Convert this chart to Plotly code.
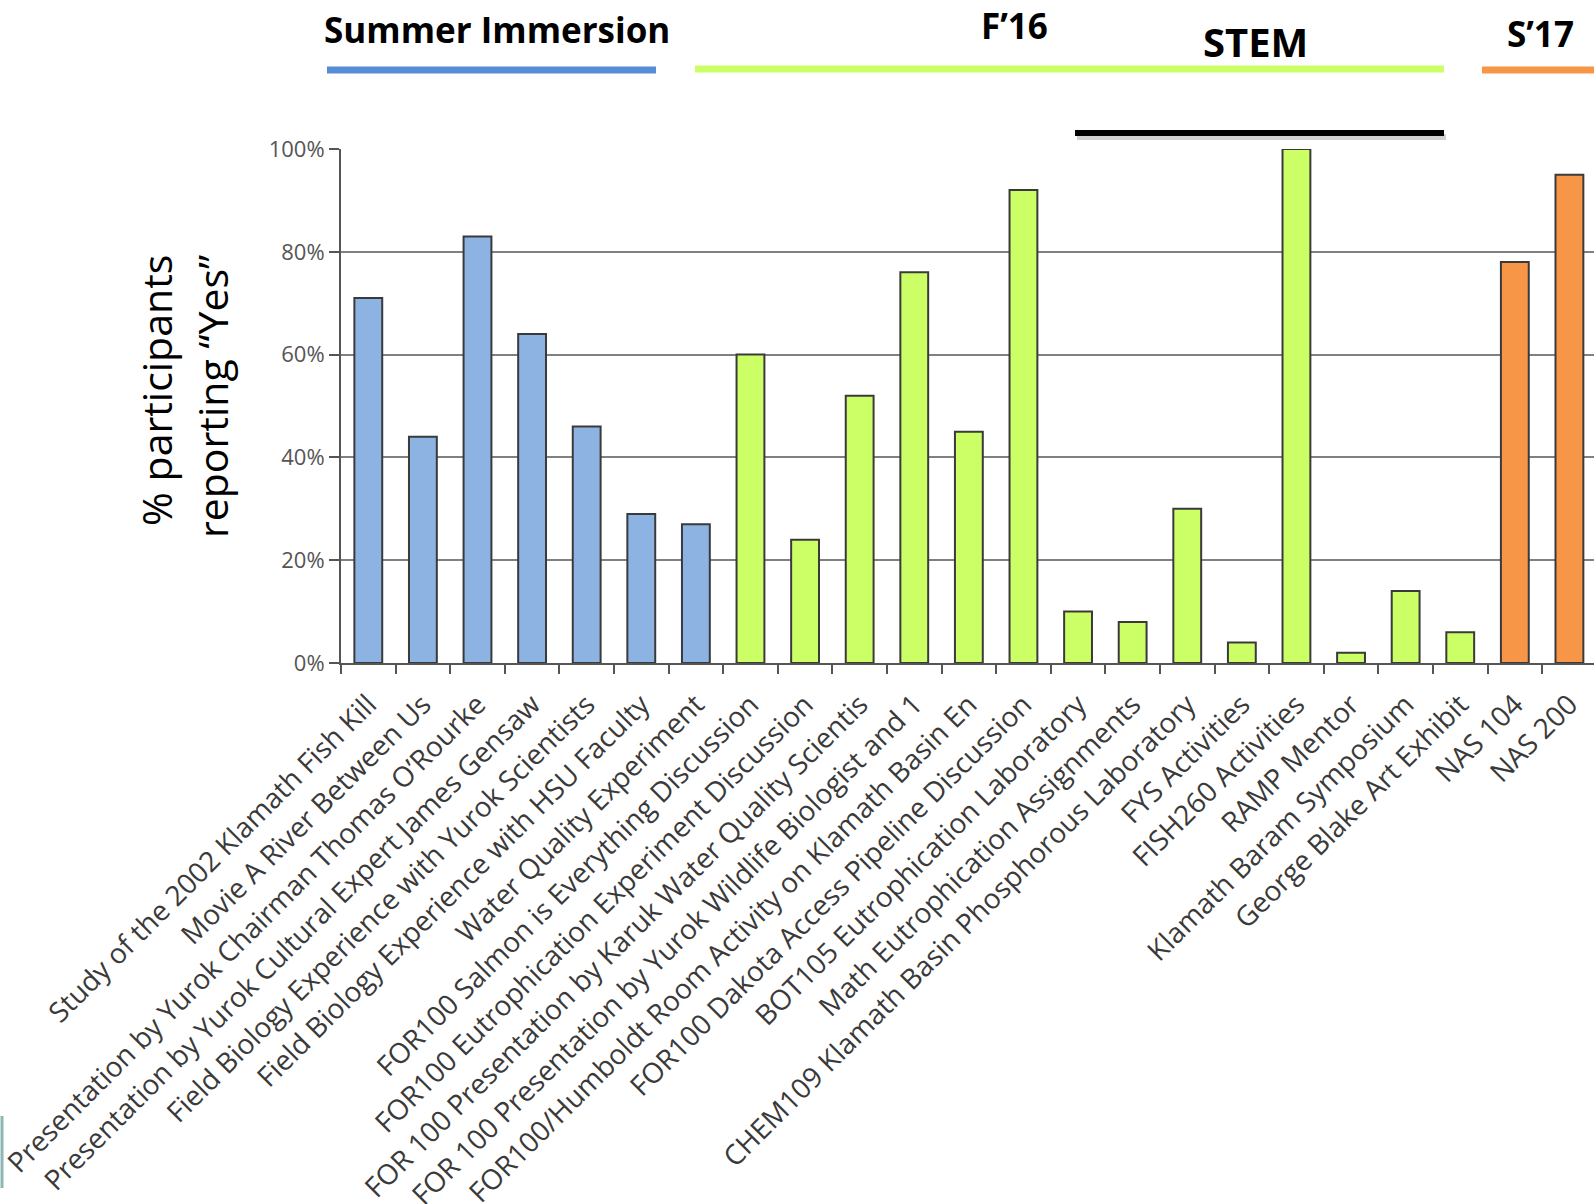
import plotly.graph_objects as go

# Activities, grouped by program, and the share of participants answering "Yes"
activities = [
    "Study of the 2002 Klamath Fish Kill",
    "Movie A River Between Us",
    "Presentation by Yurok Chairman Thomas O’Rourke",
    "Presentation by Yurok Cultural Expert James Gensaw",
    "Field Biology Experience with Yurok Scientists",
    "Field Biology Experience with HSU Faculty",
    "Water Quality Experiment",
    "FOR100 Salmon is Everything Discussion",
    "FOR100 Eutrophication Experiment Discussion",
    "FOR 100 Presentation by Karuk Water Quality Scientis",
    "FOR 100 Presentation by Yurok Wildlife Biologist and 1",
    "FOR100/Humboldt Room Activity on Klamath Basin En",
    "FOR100 Dakota Access Pipeline Discussion",
    "BOT105 Eutrophication Laboratory",
    "Math Eutrophication Assignments",
    "CHEM109 Klamath Basin Phosphorous Laboratory",
    "FYS Activities",
    "FISH260 Activities",
    "RAMP Mentor",
    "Klamath Baram Symposium",
    "George Blake Art Exhibit",
    "NAS 104",
    "NAS 200",
]
pct_yes = [71, 44, 83, 64, 46, 29, 27,
           60, 24, 52, 76, 45, 92, 10, 8, 30, 4, 100, 2, 14, 6,
           78, 95]
program = ["summer"] * 7 + ["fall"] * 14 + ["spring"] * 2

y_ticks = [0, 20, 40, 60, 80, 100]
y_tick_text = ["0%", "20%", "40%", "60%", "80%", "100%"]

program_fill = {"summer": "#8DB3E2", "fall": "#CCFF66", "spring": "#F79646"}

W, H = 1594, 1204
ML, MR, MT, MB = 341, 0, 149, 541


def px_x(x):
    return (x - ML) / (W - ML - MR)


def px_y(y):
    return (H - MB - y) / (H - MT - MB)


FONT = "Open Sans"

fig = go.Figure()
fig.add_trace(go.Bar(
    x=activities,
    y=pct_yes,
    width=0.51,
    marker=dict(color=[program_fill[p] for p in program],
                line=dict(color="#3a3a3a", width=2)),
    hoverinfo="y",
))

fig.update_layout(
    width=W, height=H,
    margin=dict(l=ML, r=MR, t=MT, b=MB, pad=0),
    paper_bgcolor="white", plot_bgcolor="white",
    showlegend=False,
    font=dict(family=FONT),
)

fig.update_xaxes(
    type="category",
    range=[-0.5, 22.45],
    tickangle=-45,
    tickfont=dict(family=FONT, size=28, color="#3a3a3a"),
    ticklabeloverflow="allow",
    ticklabelstandoff=12,
    ticks="outside", ticklen=9, tickwidth=2, tickcolor="#555555",
    tickson="boundaries",
    showline=True, linecolor="#555555", linewidth=2,
    showgrid=False,
    automargin=False,
)

fig.update_yaxes(
    range=[0, 100],
    tickmode="array",
    tickvals=y_ticks,
    ticktext=y_tick_text,
    tickfont=dict(family=FONT, size=22, color="#555555"),
    ticks="outside", ticklen=10, tickwidth=2, tickcolor="#555555",
    showline=True, linecolor="#555555", linewidth=2,
    showgrid=True, gridcolor="#808080", gridwidth=2,
    zeroline=False,
    automargin=False,
)

annotations = []
# Axis title, two rotated lines
annotations.append(dict(text="% participants", x=px_x(156), y=px_y(391),
                        xref="paper", yref="paper", showarrow=False,
                        textangle=-90, xanchor="center", yanchor="middle",
                        font=dict(family=FONT, size=41, color="black")))
annotations.append(dict(text="reporting “Yes”", x=px_x(212), y=px_y(397),
                        xref="paper", yref="paper", showarrow=False,
                        textangle=-90, xanchor="center", yanchor="middle",
                        font=dict(family=FONT, size=41, color="black")))

# Program headers above the chart
headers = [("Summer Immersion", 497, 30, 35), ("F’16", 1014, 26, 35),
           ("STEM", 1255, 41, 40), ("S’17", 1540, 34, 35)]
for text, hx, hy, fs in headers:
    annotations.append(dict(text=f"<b>{text}</b>", x=px_x(hx), y=px_y(hy),
                            xref="paper", yref="paper", showarrow=False,
                            xanchor="center", yanchor="middle",
                            font=dict(family=FONT, size=fs, color="black")))

shapes = []
# Program brackets
brackets = [(327, 656, 70, "#558ED5", 7), (695, 1444, 69, "#CCFF66", 7),
            (1482, 1600, 70, "#F79646", 7)]
for x0, x1, yy, col, w in brackets:
    shapes.append(dict(type="line", xref="paper", yref="paper",
                       x0=px_x(x0), x1=px_x(x1), y0=px_y(yy), y1=px_y(yy),
                       line=dict(color=col, width=w)))
# STEM bracket with a soft shadow
shapes.append(dict(type="line", xref="paper", yref="paper",
                   x0=px_x(1077), x1=px_x(1446), y0=px_y(137), y1=px_y(137),
                   line=dict(color="rgba(0,0,0,0.18)", width=6)))
shapes.append(dict(type="line", xref="paper", yref="paper",
                   x0=px_x(1075), x1=px_x(1444), y0=px_y(133), y1=px_y(133),
                   line=dict(color="black", width=6)))
# Thin slide edge mark at lower left
shapes.append(dict(type="line", xref="paper", yref="paper",
                   x0=px_x(2), x1=px_x(2), y0=px_y(1116), y1=px_y(1188),
                   line=dict(color="#8fb5b5", width=3)))

fig.update_layout(annotations=annotations, shapes=shapes)

fig.write_html("out.html")
